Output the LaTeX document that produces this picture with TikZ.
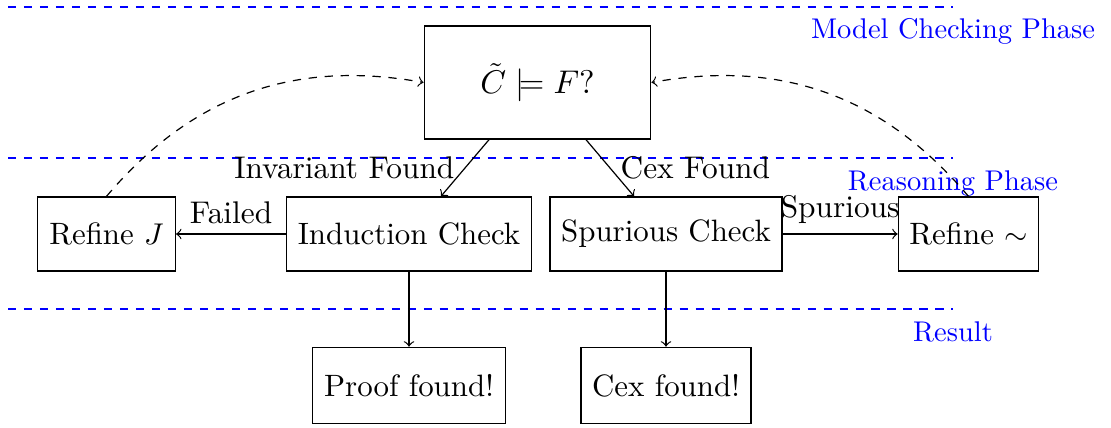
\documentclass[tikz,border=0pt]{standalone}
\begin{document}
\begin{tikzpicture}[x=0.33333pt, y=-0.33333pt,
  box/.style={draw, line width=0.42pt, inner sep=3.33pt, font=\fontsize{10.3}{12}\selectfont, minimum height=24.67pt},
  lbl/.style={font=\fontsize{10.45}{12.5}\selectfont},
  phase/.style={text=blue, font=\fontsize{9.5}{11}\selectfont, anchor=base, inner sep=0pt},
  sep/.style={blue, line width=0.9pt, dash pattern=on 2.75pt off 2.58pt},
  arr/.style={->, line width=0.4pt},
  back/.style={->, line width=0.4pt, dash pattern=on 2.75pt off 2.58pt}]
\useasboundingbox (0,0) rectangle (1111,427);

% phase separators
\coordinate (s1a) at (8,7);   \coordinate (s1b) at (953,7);
\coordinate (s2a) at (8,158); \coordinate (s2b) at (953,158);
\coordinate (s3a) at (8,309); \coordinate (s3b) at (953,309);
\draw[sep] (s1a) -- (s1b);
\draw[sep] (s2a) -- (s2b);
\draw[sep] (s3a) -- (s3b);
\node[phase] (p1) at (953,38.3) {Model Checking Phase};
\node[phase] (p2) at (953,190) {Reasoning Phase};
\node[phase] (p3) at (953,341.5) {Result};

% nodes
\node[box, minimum width=75.56pt, minimum height=37.67pt, font=\fontsize{10.7}{13}\selectfont] (top) at (537.5,82.5) {$\tilde{C}\models F?$};
\node[box, minimum width=81.5pt] (ind) at (409,234) {Induction Check};
\node[box, minimum width=77.33pt] (spu) at (666,234) {Spurious Check};
\node[box, minimum width=45.9pt] (rj) at (106.5,234) {Refine $J$};
\node[box, minimum width=46.8pt] (rt) at (968.5,234) {Refine $\sim$};
\node[box, minimum width=64.2pt, minimum height=25.33pt] (pf) at (409,385.3) {Proof found!};
\node[box, minimum width=56.67pt, minimum height=25.33pt] (cf) at (666,385.3) {Cex found!};

% connectors
\draw[arr] (top) -- node[lbl, midway, left] {Invariant Found} (ind);
\draw[arr] (top) -- node[lbl, midway, right] {Cex Found} (spu);
\draw[arr] (ind) -- node[lbl, midway, above] {Failed} (rj);
\draw[arr] (spu) -- node[lbl, midway, above] {Spurious} (rt);
\draw[arr] (ind) -- (pf);
\draw[arr] (spu) -- (cf);
\draw[back] (rj.north) to[bend left=30] (top.west);
\draw[back] (rt.north) to[bend right=30] (top.east);
\end{tikzpicture}
\end{document}
